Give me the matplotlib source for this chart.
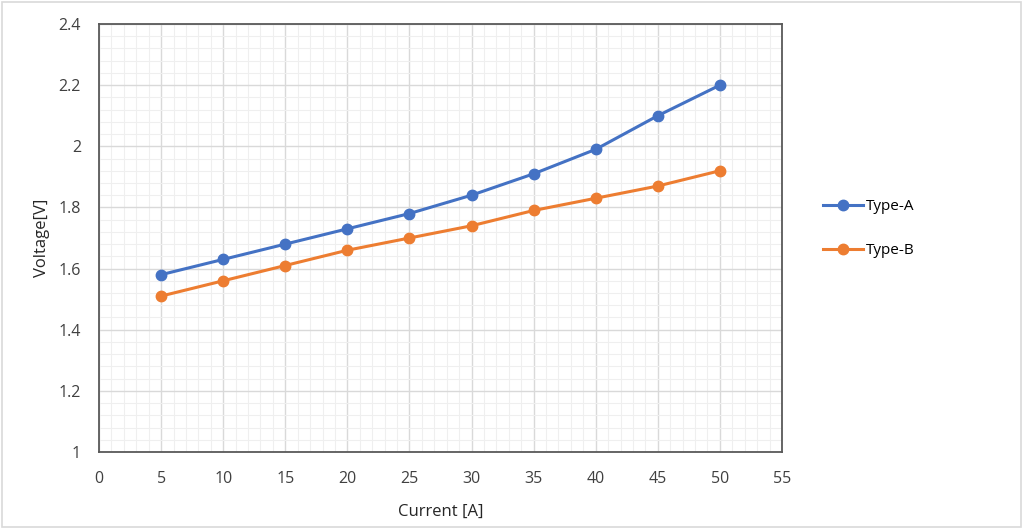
import matplotlib.pyplot as plt
from matplotlib.patches import Rectangle
from matplotlib.ticker import MultipleLocator

current = [5, 10, 15, 20, 25, 30, 35, 40, 45, 50]
type_a = [1.58, 1.63, 1.68, 1.73, 1.78, 1.84, 1.91, 1.99, 2.10, 2.20]
type_b = [1.51, 1.56, 1.61, 1.66, 1.70, 1.74, 1.79, 1.83, 1.87, 1.92]

plt.rcParams["font.family"] = ["Open Sans", "DejaVu Sans"]

fig = plt.figure(figsize=(10.23, 5.29), dpi=100)
ax = fig.add_axes([0.0968, 0.1456, 0.6676, 0.809])

ax.plot(current, type_a, marker="o", color="#4472C4", linewidth=2.2,
        markersize=7.5, label="Type-A", zorder=3)
ax.plot(current, type_b, marker="o", color="#ED7D31", linewidth=2.2,
        markersize=7.5, label="Type-B", zorder=3)

ax.set_xlim(0, 55)
ax.set_ylim(1, 2.4)
ax.xaxis.set_major_locator(MultipleLocator(5))
ax.xaxis.set_minor_locator(MultipleLocator(1))
ax.yaxis.set_major_locator(MultipleLocator(0.2))
ax.yaxis.set_minor_locator(MultipleLocator(0.04))
ax.yaxis.set_major_formatter(lambda v, pos: f"{v:g}")

ax.grid(which="major", color="#d9d9d9", linewidth=1.0)
ax.grid(which="minor", color="#efefef", linewidth=0.8)
ax.set_axisbelow(True)
ax.tick_params(which="both", length=0, colors="#404040", labelsize=11.5)
ax.tick_params(axis="x", pad=14)
ax.tick_params(axis="y", pad=13)
for s in ax.spines.values():
    s.set_color("#595959")
    s.set_linewidth(1.3)

ax.set_xlabel("Current [A]", fontsize=12, color="#262626", labelpad=12)
ax.set_ylabel("Voltage[V]", fontsize=12, color="#262626", labelpad=6)

ax.legend(loc="center left", bbox_to_anchor=(1.04, 0.522), frameon=False,
          fontsize=11, handlelength=2.6, labelspacing=1.9, handletextpad=0.2)

fig.patches.append(Rectangle((0.002, 0.003), 0.996, 0.994, transform=fig.transFigure,
                             fill=False, edgecolor="#d9d9d9", linewidth=1.2))

plt.savefig("out.png", dpi=100)
